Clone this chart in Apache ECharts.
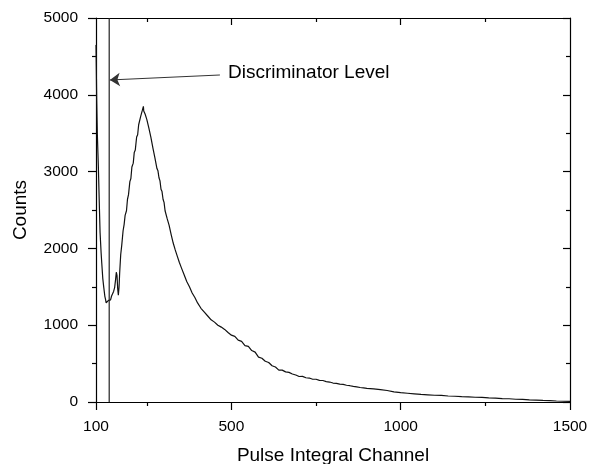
<!DOCTYPE html>
<html>
<head>
<meta charset="utf-8">
<script src="https://cdn.jsdelivr.net/npm/echarts@6/dist/echarts.min.js"></script>
<style>html,body{margin:0;padding:0;background:#fff}#c{width:590px;height:464px}</style>
</head>
<body>
<div id="c"></div>
<script>
var channels = [100,101,102,104,107,110,112,115,117,120,123,126,128,130,132,134,136,138,140,143,146,149,152,155,158,160,162,164,166,168,170,173,176,180,183,186,190,193,196,200,203,206,210,213,216,220,223,226,229,232,235,237,239,240,241,243,245,247,250,253,256,259,262,265,268,271,274,277,280,283,286,289,292,295,298,301,304,307,310,313,316,319,322,325,328,331,334,337,340,343,346,349,352,356,360,364,368,372,376,380,384,388,392,396,400,405,410,415,420,425,430,435,440,445,450,455,460,465,470,475,480,485,490,495,500,510,520,530,540,550,560,570,580,590,600,610,620,630,640,650,660,670,680,690,700,710,720,730,740,750,760,770,780,790,800,810,820,830,840,850,860,870,880,890,900,920,940,960,980,1000,1020,1040,1060,1080,1100,1120,1140,1160,1180,1200,1220,1240,1260,1280,1300,1320,1340,1360,1380,1400,1420,1440,1460,1480,1500];
var counts = [4650,4320,3950,3480,3060,2540,2210,1950,1810,1610,1490,1380,1340,1290,1300,1280,1320,1300,1340,1330,1380,1390,1440,1490,1600,1690,1650,1480,1390,1490,1690,1920,2040,2230,2310,2430,2490,2640,2700,2870,2910,3060,3110,3250,3280,3450,3480,3610,3630,3720,3720,3800,3790,3850,3790,3800,3750,3740,3680,3660,3570,3560,3450,3430,3310,3290,3180,3160,3040,3010,2920,2880,2770,2740,2640,2600,2490,2490,2390,2370,2300,2280,2180,2180,2070,2080,1980,1990,1900,1890,1820,1810,1750,1740,1660,1650,1570,1570,1500,1500,1420,1430,1360,1360,1290,1300,1220,1240,1170,1180,1120,1130,1070,1090,1040,1050,1000,1015,975,985,945,955,905,915,870,855,805,790,735,725,670,650,585,570,530,515,472,455,415,415,392,386,365,352,332,334,316,312,296,296,282,280,266,260,247,243,232,229,218,212,203,198,189,184,178,172,162,150,132,121,114,107,99,94,88,85,78,75,70,67,62,59,53,50,45,42,36,33,27,25,20,17,13,10,7];
var xMajorTicks = [100,500,1000,1500];
var xMinorTicks = [250,750,1250];
var xTopMajor = [500,1000];
var discriminatorLevel = 139;
var arrowStart = [466,4258];
var arrowEnd = [141,4193];
var annotationText = 'Discriminator Level';

var FONT = '"Liberation Sans", Arial, sans-serif';
var seriesData = channels.map(function(c,i){return [c, counts[i]];});
function plain(v){ return String(v); }

var chart = echarts.init(document.getElementById('c'), null, {renderer:'canvas'});
var baseX = {type:'value', min:100, max:1500, gridIndex:0, splitLine:{show:false}};
function xa(o){ return Object.assign({}, baseX, o); }
chart.setOption({
  animation:false,
  backgroundColor:'#fff',
  grid:{left:96, right:20, top:18, bottom:62, containLabel:false, outerBoundsMode:'none'},
  xAxis:[
    xa({position:'bottom',
      name:'Pulse Integral Channel', nameLocation:'middle', nameGap:44,
      nameTextStyle:{fontFamily:FONT, fontSize:19, color:'#000'},
      axisLine:{show:true, onZero:false, lineStyle:{color:'#000', width:1.2}},
      axisTick:{show:true, inside:false, length:8, customValues:xMajorTicks, lineStyle:{color:'#000', width:1.2}},
      axisLabel:{show:true, customValues:xMajorTicks, formatter:plain, margin:17, fontFamily:FONT, fontSize:15.5, color:'#000'}}),
    xa({position:'bottom',
      axisLine:{show:false, onZero:false},
      axisTick:{show:true, inside:false, length:4, customValues:xMinorTicks, lineStyle:{color:'#000', width:1.2}},
      axisLabel:{show:false}}),
    xa({position:'top',
      axisLine:{show:true, onZero:false, lineStyle:{color:'#000', width:1.2}},
      axisTick:{show:true, inside:true, length:7, customValues:xTopMajor, lineStyle:{color:'#000', width:1.2}},
      axisLabel:{show:false}}),
    xa({position:'top',
      axisLine:{show:false, onZero:false},
      axisTick:{show:true, inside:true, length:4, customValues:xMinorTicks, lineStyle:{color:'#000', width:1.2}},
      axisLabel:{show:false}})
  ],
  yAxis:[
    {type:'value', min:0, max:5000, interval:1000, position:'left',
      name:'Counts', nameLocation:'middle', nameGap:66,
      nameTextStyle:{fontFamily:FONT, fontSize:19, color:'#000'},
      splitLine:{show:false},
      axisLine:{show:true, onZero:false, lineStyle:{color:'#000', width:1.2}},
      axisTick:{show:true, inside:false, length:8, lineStyle:{color:'#000', width:1.2}},
      minorTick:{show:true, splitNumber:2, length:4, lineStyle:{color:'#000', width:1.2}},
      axisLabel:{margin:18, formatter:plain, fontFamily:FONT, fontSize:15.5, color:'#000'}},
    {type:'value', min:0, max:5000, interval:1000, position:'right',
      splitLine:{show:false},
      axisLine:{show:true, onZero:false, lineStyle:{color:'#000', width:1.2}},
      axisTick:{show:true, inside:true, length:7, lineStyle:{color:'#000', width:1.2}},
      minorTick:{show:true, splitNumber:2, length:4, lineStyle:{color:'#000', width:1.2}},
      axisLabel:{show:false}}
  ],
  series:[
    {type:'line', xAxisIndex:0, yAxisIndex:0, data:seriesData, showSymbol:false, symbol:'none',
      lineStyle:{color:'#111', width:1.2}, silent:true},
    {type:'line', xAxisIndex:0, yAxisIndex:0, data:[[discriminatorLevel,0],[discriminatorLevel,5000]],
      showSymbol:false, symbol:'none', lineStyle:{color:'#222', width:1.2}, silent:true,
      markLine:{silent:true, symbol:['none','arrow'], symbolSize:10, label:{show:false},
        lineStyle:{color:'#333', width:1, type:'solid'},
        data:[[{coord:arrowStart},{coord:arrowEnd}]]}}
  ],
  graphic:[
    {type:'text', left:228, top:63, style:{text:annotationText, font:'19px "Liberation Sans", Arial, sans-serif', fill:'#000'}}
  ]
});
</script>
</body>
</html>
